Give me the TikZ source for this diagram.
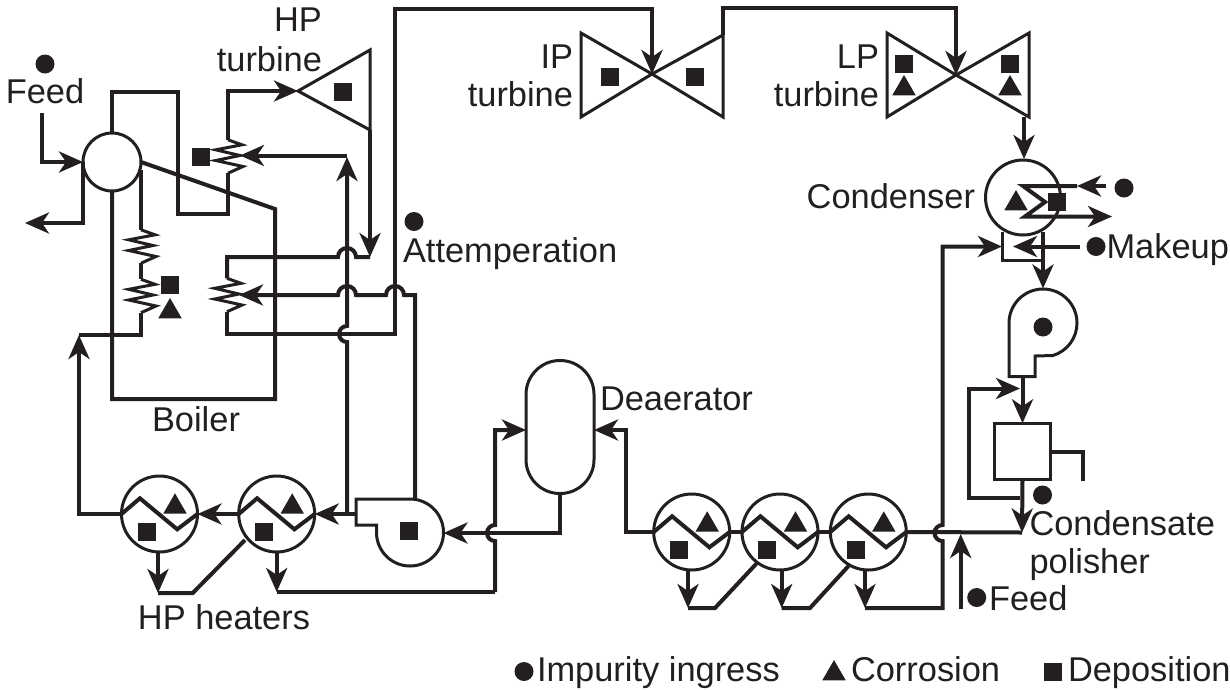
\documentclass[tikz,border=0pt]{standalone}
\usepackage{fontspec}
\setmainfont{Liberation Sans}
\usepackage{xcolor}
\usepackage{tikz}
\usetikzlibrary{arrows.meta}
\usetikzlibrary{shapes.geometric}
\definecolor{ink}{HTML}{231F20}

\tikzset{
  pipe/.style={draw=ink, line width=4pt, line join=miter},
  flow/.style={pipe, -{Stealth[length=24pt,width=21pt,inset=7pt]}},
  shell/.style={draw=ink, line width=3pt, line join=miter},
  lbl/.style={text=ink, inner sep=0pt, outer sep=0pt, font=\fontsize{34.4}{40}\selectfont},
  vessel/.style={shape=circle, draw=ink, line width=3pt, inner sep=0pt, outer sep=0pt},
  heater/.style={vessel, minimum size=76pt},
  dotm/.style={shape=circle, fill=ink, minimum size=19pt, inner sep=0pt, outer sep=0pt},
  sqm/.style={shape=rectangle, fill=ink, minimum size=18pt, inner sep=0pt, outer sep=0pt},
  trim/.style={shape=regular polygon, regular polygon sides=3, fill=ink, minimum size=27pt, inner sep=0pt, outer sep=0pt, anchor=north},
  coil/.pic={
    \coordinate (-top) at (0,-16.7);
    \coordinate (-bot) at (0,16.7);
    \draw[shell] (-top) -- (14,-11.7) -- (-12.3,-6.7) -- (12,-1) -- (-12.3,4) -- (15,10) -- (-bot);
  }
}

\begin{document}
\begin{tikzpicture}[x=1pt,y=-1pt]
      \useasboundingbox (0,0) rectangle (1230,689);

      % boiler
      \node[vessel, minimum size=58pt] (drum) at (112,162) {};
      \coordinate (bl) at (112,399);
      \coordinate (br) at (275,399);
      \coordinate (bt) at (275,209);
      \draw[pipe] (drum.south) -- (bl) -- (br) -- (bt) -- (drum.east);

      \pic (sh) at (228,156.5) {coil};
      \pic (rh) at (227,295) {coil};
      \pic (ev1) at (141,246.5) {coil};
      \pic (ev2) at (141,296) {coil};

      \node[sqm] (shsq) at (201,157) {};
      \node[sqm] (ev2sq) at (170,285) {};
      \node[trim] (ev2tri) at (170,298) {};

      \coordinate (feedin) at (42,113);
      \coordinate (blow) at (25,223);
      \draw[flow] (feedin) |- (drum.west);
      \draw[flow] (drum.west) |- (blow);

      \draw[pipe] (drum.north) -- (112,92) -- (178,92) -- (178,214) -- (228,214) -- (sh-bot);
      \draw[pipe] (drum.east) ++(0,8) -- (ev1-top);
      \draw[pipe] (ev1-bot) -- (ev2-top);

      % turbines
      \coordinate (hpa) at (298,91);
      \coordinate (hpt) at (370,50);
      \coordinate (hpb) at (370,130);
      \draw[shell] (hpa) -- (hpt) -- (hpb) -- cycle;
      \node[sqm] (hpsq) at (343,92) {};
      \draw[flow] (sh-top) |- (hpa);

      \coordinate (ipa) at (652,74);
      \coordinate (lpa) at (956,75);
      \coordinate (ip1) at (581,33);
      \coordinate (ip2) at (581,117);
      \coordinate (ip3) at (723,35);
      \coordinate (ip4) at (723,117);
      \coordinate (lp1) at (887,33);
      \coordinate (lp2) at (887,117);
      \coordinate (lp3) at (1029,33);
      \coordinate (lp4) at (1029,117);
      \draw[shell] (ipa) -- (ip1) -- (ip2) -- (ipa) -- (ip3) -- (ip4) -- cycle;
      \draw[shell] (lpa) -- (lp1) -- (lp2) -- (lpa) -- (lp3) -- (lp4) -- cycle;
      \node[sqm] (ipsq1) at (610,77) {};
      \node[sqm] (ipsq2) at (694.5,77) {};
      \node[sqm] (lpsq1) at (904,64) {};
      \node[trim] (lptri1) at (904,75) {};
      \node[sqm] (lpsq2) at (1010,64) {};
      \node[trim] (lptri2) at (1010,75) {};

      % reheat lines
      \coordinate (hpout) at (370,257);
      \draw[flow] (hpb) -- (hpout);
      \draw[pipe] (hpout) -- (356,257) arc[start angle=0,end angle=180,radius=9pt] -- (227,257) -- (rh-top);
      \draw[flow] (rh-bot) -- (227,334) -- (395,334) -- (395,9) -| (ipa);
      \draw[flow] (ip3) -- (723,8) -| (lpa);

      % condenser
      \node[vessel, minimum size=75pt] (cond) at (1023,197.5) {};
      \coordinate (lpout) at (1024,117);
      \draw[flow] (lpout) -- (1024,159);
      \node[trim] (condtri) at (1016,190) {};
      \node[sqm] (condsq) at (1057,202) {};
      \coordinate (cwin) at (1106,186);
      \coordinate (cwtip) at (1077,186);
      \coordinate (cwout) at (1112,216.5);
      \draw[flow] (cwin) -- (cwtip);
      \draw[flow] (cwtip) -- (1023,186) -- (1045,202) -- (1025,216.5) -- (cwout);
      \node[dotm] (cwdot) at (1124,188) {};

      \coordinate (hw1) at (1002,232);
      \coordinate (hw2) at (1002,260);
      \coordinate (hw3) at (1042,260);
      \coordinate (hw4) at (1042,232);
      \draw[shell] (hw1) -- (hw2) -- (hw3) -- (hw4);
      \coordinate (mkin) at (1080,246.5);
      \draw[flow] (mkin) -- (1013,246.5);
      \node[dotm] (mkdot) at (1096,246.5) {};

      % condensate pump
      \coordinate (cpin) at (1043,288.5);
      \draw[flow] (hw4) ++(1,0) -- (cpin);
      \draw[shell] (1009,323) arc[start angle=180,end angle=-73,radius=34pt] -- (1035,356) -- (1035,376.5) -- (1009,376.5) -- cycle;
      \node[dotm] (cpdot) at (1043,327) {};

      % polisher
      \node[shell, shape=rectangle, minimum size=56.5pt, inner sep=0pt, outer sep=0pt] (pol) at (1022.5,451.5) {};
      \coordinate (cpout) at (1022.5,376.5);
      \draw[flow] (cpout) -- (pol.north);
      \coordinate (bpin) at (1020,388.5);
      \coordinate (bpout) at (1020,497.5);
      \draw[flow] (bpout) -- (968.5,497.5) -- (968.5,388.5) -- (bpin);
      \coordinate (stub) at (1082.5,480.5);
      \draw[pipe] (pol.east) -| (stub);
      \coordinate (polout) at (1022,532.5);
      \draw[flow] (pol.south) -- (polout);
      \node[dotm] (poldot) at (1042.5,495) {};

      % heaters
      \foreach \name/\x/\y in {hh1/159.5/514, hh2/276.7/514, lh1/691.7/532, lh2/780/532, lh3/868.3/532}{
        \node[heater] (\name) at (\x,\y) {};
        \draw[pipe] (\name.west) -- ++(18.4,-15.7) -- ++(37.3,31) -- (\name.east);
        \node[sqm] (\name sq) at ([shift={(-12.7,17.7)}]\name.center) {};
        \node[trim] (\name tri) at ([shift={(15.5,-20.7)}]\name.center) {};
      }

      % feed train, high pressure side
      \coordinate (ecoin) at (79,335);
      \draw[flow] (hh1.west) -- (79,514) -- (ecoin);
      \draw[pipe] (ecoin) -- (141,335) -- (ev2-bot);
      \draw[flow] (hh2.west) -- (hh1.east);

      % boiler feed pump
      \draw[shell] (356,499) -- (410,499) arc[start angle=90,end angle=-180,radius=33.5pt] -- (376.5,525) -- (356,525) -- cycle;
      \node[sqm] (bfpsq) at (409,531) {};
      \coordinate (bfpout) at (356,514);
      \coordinate (bfpin) at (443.5,533);
      \coordinate (bfpcool) at (415,499);
      \draw[flow] (bfpout) -- (hh2.east);
      \draw[flow] (347,514) -- (347,342) arc[start angle=-90,end angle=-270,radius=8pt] -- (347,157);
      \coordinate (shspray) at (240,155.5);
      \draw[flow] (347,155.5) -- (shspray);
      \coordinate (rhspray) at (239,295);
      \draw[flow] (bfpcool) -- (415,295) -- (404,295) arc[start angle=0,end angle=180,radius=9pt] -- (356,295) arc[start angle=0,end angle=180,radius=9pt] -- (rhspray);

      % deaerator
      \node[shape=rectangle, minimum width=68pt, minimum height=133pt, rounded corners=33.9pt, draw=ink, line width=3pt, inner sep=0pt, outer sep=0pt] (dea) at (560,427) {};
      \draw[flow] (dea.south) -- (560,533) -- (bfpin);
      \coordinate (dealow) at (495,592);
      \draw[flow] (dealow) -- (495,541) arc[start angle=-90,end angle=-270,radius=8pt] -- (495,430) -- (dea.west |- 0,430);
      \draw[flow] (lh1.west) -- (626,532) -- (626,430) -- (dea.east |- 0,430);
      \draw[flow] (hh2.south) -- (276.7,592);
      \draw[pipe] (276.7,592) -- (dealow);
      \draw[flow] (158,552) -- (158,593);
      \draw[pipe] (158,593) -- (192.7,593) -- (245,540);

      % low pressure heaters
      \draw[pipe] (lh2.west) -- (lh1.east);
      \draw[pipe] (lh3.west) -- (lh2.east);
      \draw[pipe] (polout) -- (lh3.east);
      \draw[flow] (688,570) -- (688,608);
      \draw[pipe] (688,608) -- (715,608) -- (757,563);
      \draw[flow] (781.7,570) -- (781.7,608);
      \draw[pipe] (781.7,608) -- (810,608) -- (848.5,566);
      \draw[flow] (865,570) -- (865,608);
      \coordinate (drain) at (942.5,608);
      \draw[flow] (865,608) -- (drain) -- (942.5,541) arc[start angle=-90,end angle=-270,radius=8pt] -- (942.5,246.5) -- (hw1 |- 0,246.5);
      \coordinate (feedb) at (960.7,609);
      \draw[flow] (feedb) -- (960.7,534);
      \node[dotm] (feedbdot) at (976.7,597.5) {};

      % labels
      \node[dotm] (feeddot) at (45,64) {};
      \node[lbl, anchor=base] (feedl) at (45,103.5) {Feed};
      \node[lbl, anchor=base] (hpl) at (298,31.5) {HP};
      \node[lbl, anchor=base east] (hptl) at (322,71.5) {turbine};
      \node[lbl, anchor=base east] (ipl) at (573,68) {IP};
      \node[lbl, anchor=base east] (iptl) at (573,106.5) {turbine};
      \node[lbl, anchor=base east] (lpl) at (879,68) {LP};
      \node[lbl, anchor=base east] (lptl) at (879,106.5) {turbine};
      \node[dotm] (attdot) at (414,221.5) {};
      \node[lbl, anchor=base west] (attl) at (403,262.5) {Attemperation};
      \node[lbl, anchor=base] (boill) at (196,431) {Boiler};
      \node[lbl, anchor=base] (hhl) at (224,629) {HP heaters};
      \node[lbl, anchor=base west] (deal) at (600,410) {Deaerator};
      \node[lbl, anchor=base east] (condl) at (975,208.5) {Condenser};
      \node[lbl, anchor=base west] (mkl) at (1106.5,258) {Makeup};
      \node[lbl, anchor=base west] (poll1) at (1029.5,535) {Condensate};
      \node[lbl, anchor=base west] (poll2) at (1029.5,573) {polisher};
      \node[lbl, anchor=base west] (feedbl) at (989,610) {Feed};

      % legend
      \node[dotm] (legdot) at (524,671.5) {};
      \node[lbl, anchor=base west] (legimp) at (537,681.5) {Impurity ingress};
      \node[trim] (legtri) at (834,660) {};
      \node[lbl, anchor=base west] (legcor) at (851,681.5) {Corrosion};
      \node[sqm] (legsq) at (1053,672) {};
      \node[lbl, anchor=base west] (legdep) at (1068,681.5) {Deposition};
\end{tikzpicture}
\end{document}
